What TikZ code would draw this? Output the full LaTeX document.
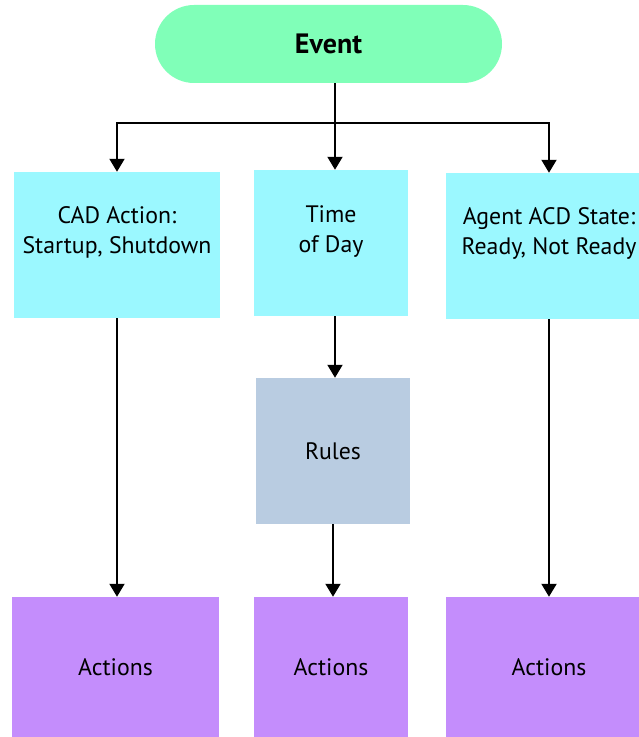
\documentclass[tikz,border=0pt]{standalone}
\usepackage{fontspec}
\setmainfont{PT Sans}
\usepackage{tikz}
\usetikzlibrary{arrows.meta}
\definecolor{evgreen}{RGB}{128,255,184}
\definecolor{incyan}{RGB}{155,248,255}
\definecolor{rulegray}{RGB}{185,204,225}
\definecolor{actpurple}{RGB}{196,141,252}
\newcommand{\boxfont}{\fontsize{23.8}{30}\selectfont}
\tikzset{
  evbox/.style={fill=evgreen, rounded corners=39pt, minimum width=347pt, minimum height=78pt, inner sep=0pt, font=\fontsize{28}{32}\selectfont\bfseries},
  inbox/.style={fill=incyan, minimum height=146pt, inner sep=0pt},
  inlbl/.style={font=\boxfont, align=center, yshift=13pt},
  rulebox/.style={fill=rulegray, minimum width=154pt, minimum height=146pt, inner sep=0pt, font=\boxfont},
  actbox/.style={fill=actpurple, minimum height=140pt, inner sep=0pt, font=\boxfont},
  arr/.style={-{Triangle[length=13pt,width=15pt]}, line width=2pt},
  ln/.style={line width=2pt},
}
\begin{document}
\begin{tikzpicture}[x=1pt,y=1pt]
  \useasboundingbox (0,0) rectangle (639,737);
  \clip (0,0) rectangle (639,737);
  \node[evbox] (event) at (328.5,693) {Event};
  \coordinate (split) at (335,614);
  % inputs
  \node[inbox, minimum width=206pt, label={[inlbl]center:CAD Action:\\Startup, Shutdown}] (cad) at (117,492) {};
  \node[inbox, minimum width=154pt, label={[inlbl, yshift=-2pt]center:Time\\of Day}] (tod) at (331,494) {};
  \node[inbox, minimum width=206pt, label={[inlbl]center:Agent ACD State:\\Ready, Not Ready}] (acd) at (549,491) {};
  \node[rulebox] (rules) at (333,286) {Rules};
  % outputs
  \node[actbox, minimum width=207pt] (act1) at (115.5,70) {Actions};
  \node[actbox, minimum width=154pt] (act2) at (331,70) {Actions};
  \node[actbox, minimum width=206pt] (act3) at (549,70) {Actions};
  \draw[ln] (event.south -| split) -- (split);
  \draw[arr] (split) -| (cad.north);
  \draw[arr] (split) -- (split |- tod.north);
  \draw[arr] (split) -| (acd.north);
  \draw[arr] (cad.south) -- (cad.south |- act1.north);
  \draw[arr] (split |- tod.south) -- (split |- rules.north);
  \draw[arr] (rules.south) -- (rules.south |- act2.north);
  \draw[arr] (acd.south) -- (act3.north);
\end{tikzpicture}
\end{document}
